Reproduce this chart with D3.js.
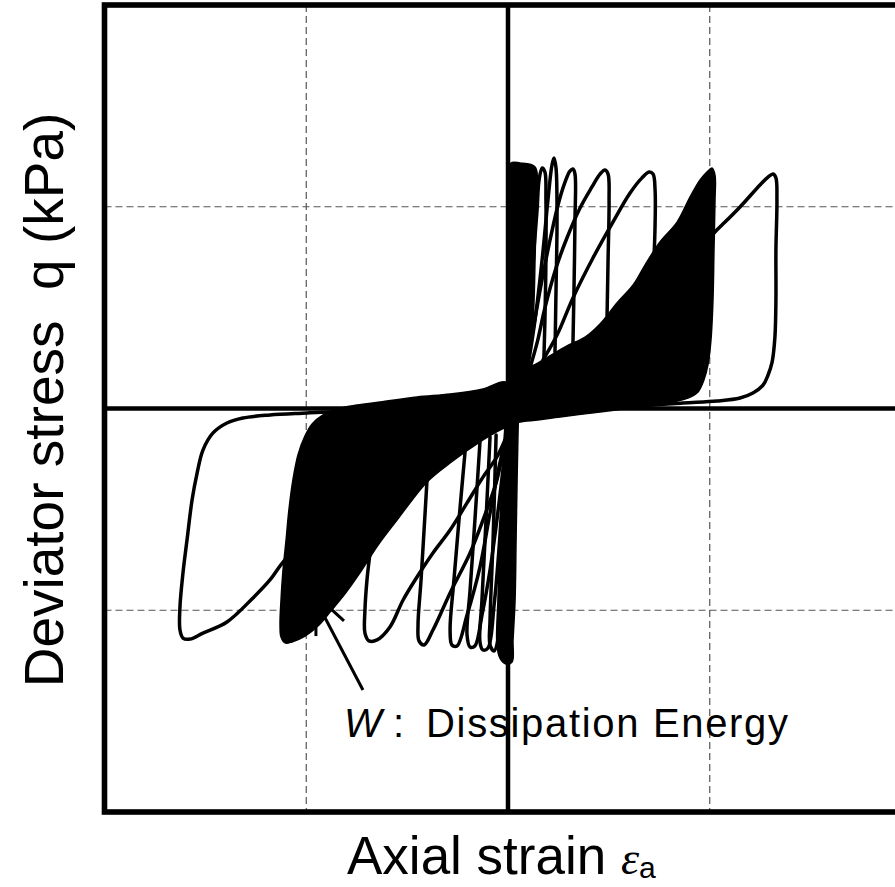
<!DOCTYPE html>
<html><head><meta charset="utf-8">
<script src="https://cdn.jsdelivr.net/npm/d3@7"></script>
<style>html,body{margin:0;padding:0;background:#fff;}svg{display:block;}</style>
</head><body><svg id="chart" width="895" height="887"></svg>
<script>
// Axial strain (%) vs deviator stress q (normalized)
const gridStrain = [-1, 1];
const gridStress = [-1, 1];

// union of overlapping large compression loops (filled black)
const compressionFill = [[.005,.131],[.050,.171],[.094,.196],[.173,.240],[.292,.310],[.382,.354],[.456,.419],[.540,.523],[.620,.612],[.679,.711],[.753,.825],[.838,.924],[.902,1.048],[.952,1.133],[.986,1.172],[1.011,1.192],[1.026,1.157],[1.026,1.033],[1.021,.786],[1.016,.538],[1.006,.340],[.991,.216],[.971,.141],[.942,.082],[.892,.052],[.788,.027],[.605,.002],[.456,-.017],[.258,-.042],[.094,-.062],[.020,-.062]];
// union of overlapping large extension loops (filled black)
const extensionFill = [[-.010,.131],[-.124,.097],[-.287,.072],[-.451,.057],[-.634,.032],[-.748,.017],[-.848,-.002],[-.917,-.032],[-.971,-.077],[-1.006,-.136],[-1.041,-.230],[-1.066,-.354],[-1.086,-.503],[-1.100,-.652],[-1.115,-.800],[-1.125,-.949],[-1.130,-1.073],[-1.125,-1.133],[-1.105,-1.162],[-1.071,-1.157],[-1.006,-1.128],[-.942,-1.078],[-.882,-1.009],[-.808,-.919],[-.734,-.815],[-.644,-.677],[-.550,-.553],[-.401,-.364],[-.287,-.270],[-.124,-.156],[-.040,-.107],[.045,-.062],[.035,.042]];
// dense small-strain cycles near the origin
const earlyCycles = [[.015,1.217],[.059,1.217],[.134,1.197],[.139,1.033],[.134,.736],[.124,.439],[.099,.240],[.069,.141],[.055,.042],[.050,-.107],[.045,-.354],[.040,-.652],[.035,-.949],[.025,-1.147],[.020,-1.257],[-.010,-1.266],[-.040,-1.237],[-.055,-1.172],[-.050,-.949],[-.040,-.652],[-.030,-.354],[-.020,-.156],[-.010,-.032],[0,.092],[.005,.340],[.010,.786],[.010,1.083]];

// individual compression-side loops
const cycleC1 = [[.055,.151],[.089,.389],[.124,.736],[.144,.984],[.154,1.133],[.169,1.192],[.183,1.172],[.188,1.033],[.188,.736],[.183,.439],[.178,.250]];
const cycleC2 = [[.094,.181],[.134,.439],[.169,.736],[.198,1.033],[.218,1.207],[.228,1.242],[.238,1.192],[.243,.934],[.238,.587],[.233,.280]];
const cycleC3 = [[.079,.176],[.119,.364],[.159,.587],[.203,.810],[.248,1.009],[.283,1.123],[.307,1.177],[.322,1.187],[.332,1.162],[.332,.934],[.327,.587],[.322,.325]];
const cycleC4 = [[.109,.201],[.144,.325],[.183,.498],[.238,.696],[.292,.845],[.357,.994],[.416,1.098],[.456,1.162],[.481,1.182],[.496,1.162],[.501,1.033],[.496,.736],[.491,.458]];
const cycleC5 = [[.173,.240],[.243,.364],[.322,.548],[.421,.746],[.520,.924],[.605,1.068],[.664,1.143],[.699,1.172],[.719,1.162],[.729,1.083],[.729,.910],[.724,.756]];
const cycleCLast = [[.902,.751],[1.026,.875],[1.150,.999],[1.249,1.108],[1.289,1.147],[1.314,1.162],[1.328,1.143],[1.333,1.033],[1.328,.786],[1.328,.538],[1.323,.354],[1.309,.230],[1.289,.166],[1.264,.116],[1.214,.077],[1.150,.052],[1.036,.037],[.867,.027],[.654,.012],[.456,-.007]];

// individual extension-side loops
const cycleE1 = [[-.684,-.716],[-.699,-.850],[-.709,-.999],[-.709,-1.113],[-.689,-1.152],[-.649,-1.147],[-.585,-1.083],[-.520,-.949],[-.451,-.835],[-.372,-.716],[-.287,-.602],[-.203,-.468],[-.124,-.340],[-.055,-.240],[-.015,-.156]];
const cycleE2 = [[-.401,-.349],[-.416,-.602],[-.431,-.850],[-.446,-1.073],[-.441,-1.152],[-.416,-1.172],[-.372,-1.098],[-.287,-.914],[-.188,-.716],[-.124,-.553],[-.055,-.354],[-.020,-.181]];
const cycleE3 = [[-.213,-.216],[-.243,-.553],[-.268,-.850],[-.287,-1.098],[-.278,-1.172],[-.253,-1.177],[-.203,-1.024],[-.139,-.786],[-.089,-.518],[-.040,-.270],[-.010,-.146]];
const cycleE4 = [[-.139,-.166],[-.164,-.553],[-.188,-.900],[-.203,-1.123],[-.188,-1.182],[-.164,-1.177],[-.129,-1.024],[-.089,-.800],[-.055,-.553],[-.025,-.305],[-.005,-.156]];
const cycleE5 = [[-.089,-.141],[-.109,-.553],[-.129,-.949],[-.139,-1.157],[-.124,-1.197],[-.099,-1.187],[-.069,-.974],[-.045,-.701],[-.025,-.404],[-.005,-.156]];
const cycleE6 = [[-.059,-.131],[-.074,-.652],[-.089,-1.048],[-.089,-1.172],[-.069,-1.202],[-.050,-1.147],[-.030,-.850],[-.015,-.503],[0,-.156]];
const cycleELast = [[-.535,.017],[-.798,-.012],[-.996,-.022],[-1.180,-.032],[-1.314,-.047],[-1.393,-.072],[-1.462,-.121],[-1.512,-.206],[-1.541,-.320],[-1.566,-.454],[-1.591,-.652],[-1.611,-.815],[-1.626,-.984],[-1.626,-1.098],[-1.611,-1.138],[-1.576,-1.143],[-1.512,-1.113],[-1.393,-1.058],[-1.264,-.939],[-1.180,-.850],[-1.115,-.761],[-1.031,-.677],[-.932,-.577]];

// annotation pointer strokes
const pointerStrokes = [
  [[-.952,-1.009],[-.952,-1.128]],
  [[-.882,-.989],[-.813,-1.053]],
  [[-.922,-1.009],[-.719,-1.395]]
];

const svg = d3.select("#chart");
const x = d3.scaleLinear().domain([-2, 2]).range([104.5, 911.5]);
const y = d3.scaleLinear().domain([-2, 2]).range([812, 5]);

// grid
svg.append("g").selectAll("line").data(gridStrain).join("line")
  .attr("x1", d => x(d)).attr("x2", d => x(d)).attr("y1", y(2)).attr("y2", y(-2))
  .attr("stroke", "#555").attr("stroke-width", 1.2).attr("stroke-dasharray", "7,4");
svg.append("g").selectAll("line").data(gridStress).join("line")
  .attr("y1", d => y(d)).attr("y2", d => y(d)).attr("x1", x(-2)).attr("x2", x(2))
  .attr("stroke", "#555").attr("stroke-width", 1.2).attr("stroke-dasharray", "7,4");

const area = d3.line().x(d => x(d[0])).y(d => y(d[1])).curve(d3.curveCatmullRomClosed.alpha(0.5));
const path = d3.line().x(d => x(d[0])).y(d => y(d[1])).curve(d3.curveCatmullRom.alpha(0.5));

svg.append("g").selectAll("path").data([compressionFill, extensionFill, earlyCycles]).join("path")
  .attr("d", area).attr("fill", "#000").attr("stroke", "#000").attr("stroke-width", 1.5);

svg.append("g").selectAll("path")
  .data([cycleC1, cycleC2, cycleC3, cycleC4, cycleC5, cycleCLast, cycleE1, cycleE2, cycleE3, cycleE4, cycleE5, cycleE6, cycleELast])
  .join("path").attr("d", path).attr("fill", "none").attr("stroke", "#000")
  .attr("stroke-width", 3.5).attr("stroke-linejoin", "round").attr("stroke-linecap", "round");

// center axes
svg.append("line").attr("x1", x(0)).attr("x2", x(0)).attr("y1", y(2)).attr("y2", y(-2))
  .attr("stroke", "#000").attr("stroke-width", 4.5);
svg.append("line").attr("x1", x(-2)).attr("x2", x(2)).attr("y1", y(0)).attr("y2", y(0))
  .attr("stroke", "#000").attr("stroke-width", 4.5);

// frame
svg.append("rect").attr("x", x(-2)).attr("y", y(2)).attr("width", x(2) - x(-2)).attr("height", y(-2) - y(2))
  .attr("fill", "none").attr("stroke", "#000").attr("stroke-width", 5.6);

// pointer
svg.append("g").selectAll("path").data(pointerStrokes).join("path")
  .attr("d", d3.line().x(d => x(d[0])).y(d => y(d[1]))).attr("stroke", "#000").attr("stroke-width", 3);

const font = "'Liberation Sans', Arial, sans-serif";
// annotation text
const ann = svg.append("text").attr("y", 737).attr("font-family", font).attr("font-size", 40).attr("fill", "#000");
ann.append("tspan").attr("x", 344).attr("font-style", "italic").text("W");
ann.append("tspan").attr("x", 393).text(":");
ann.append("tspan").attr("x", 426).attr("textLength", 362).attr("lengthAdjust", "spacing").text("Dissipation Energy");

// x label
const xl = svg.append("text").attr("x", 347).attr("y", 874).attr("font-family", font).attr("font-size", 53).attr("fill", "#000");
xl.append("tspan").text("Axial strain ");
xl.append("tspan").attr("font-family", "'Liberation Serif', 'Times New Roman', serif").attr("font-style", "italic").attr("font-size", 46).text("ε");
xl.append("tspan").attr("font-size", 30).attr("dy", 4).text("a");

// y label
svg.append("text").attr("transform", "translate(63,400) rotate(-90)").attr("text-anchor", "middle")
  .attr("font-family", font).attr("font-size", 55).attr("fill", "#000").style("white-space", "pre")
  .text("Deviator stress  q (kPa)");
</script></body></html>
